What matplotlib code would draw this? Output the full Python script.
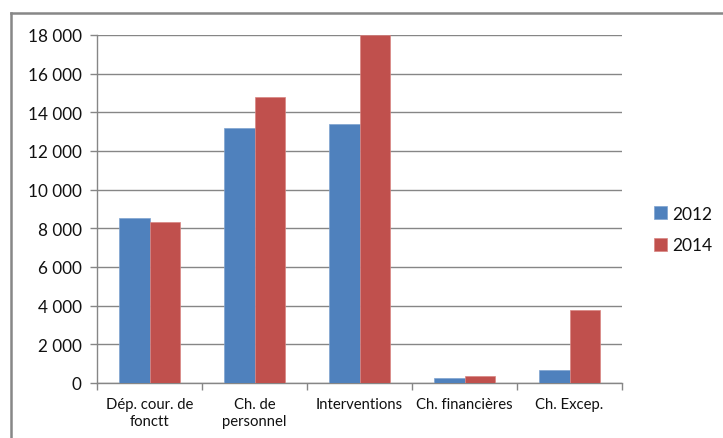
import matplotlib
matplotlib.use('Agg')
import matplotlib.pyplot as plt
from matplotlib.lines import Line2D
from matplotlib.ticker import FuncFormatter, FixedLocator
import numpy as np

categories = ["Dép. cour. de\nfonctt", "Ch. de\npersonnel", "Interventions",
              "Ch. financières", "Ch. Excep."]
years = ["2012", "2014"]
values_2012 = [8550, 13200, 13400, 260, 660]
values_2014 = [8330, 14800, 18000, 360, 3800]
y_ticks = list(range(0, 18001, 2000))

blue = '#4F81BD'
red = '#C0504D'
grey = '#868686'

plt.rcParams['font.family'] = ['Lato', 'DejaVu Sans']

W, H = 723, 439
fig = plt.figure(figsize=(W / 100, H / 100), dpi=100)

def px(x0, y0, x1, y1):
    return [x0 / W, 1 - y1 / H, (x1 - x0) / W, (y1 - y0) / H]

ax = fig.add_axes(px(97, 36, 622, 384))

x = np.arange(len(categories))
bw = 0.286
b1 = ax.bar(x - bw / 2, values_2012, bw, color=blue, edgecolor='#7fa3cf',
            linewidth=0.5, label=years[0], zorder=3)
b2 = ax.bar(x + bw / 2, values_2014, bw, color=red, edgecolor='#d98582',
            linewidth=0.5, label=years[1], zorder=3)

ax.set_xlim(-0.5, len(categories) - 0.5)
ax.set_ylim(0, 18000)
ax.set_yticks(y_ticks)
ax.yaxis.set_major_formatter(FuncFormatter(lambda v, p: '{:,}'.format(int(v)).replace(',', ' ')))
ax.yaxis.grid(True, color=grey, linewidth=1, zorder=0)
ax.set_axisbelow(True)

ax.set_xticks(x)
ax.set_xticklabels(categories, fontsize=10.7, color='#111111', linespacing=1.25)
ax.xaxis.set_minor_locator(FixedLocator(np.arange(-0.5, len(categories), 1.0)))
ax.tick_params(axis='x', which='major', length=0, pad=10)
ax.tick_params(axis='x', which='minor', length=5, color=grey, width=1)
ax.tick_params(axis='y', length=5, color=grey, width=1, labelsize=12.3,
               labelcolor='#111111', pad=6)

for side in ('top', 'right'):
    ax.spines[side].set_visible(False)
for side in ('left', 'bottom'):
    ax.spines[side].set_color(grey)
    ax.spines[side].set_linewidth(1)

leg = fig.legend(handles=[b1, b2], labels=years, loc='upper left',
                 bbox_to_anchor=(645 / W, 1 - 198 / H), frameon=False,
                 fontsize=12.5, handlelength=0.75, handleheight=0.75,
                 handletextpad=0.3, labelspacing=0.9, borderpad=0)
for t in leg.get_texts():
    t.set_color('#111111')

# outer chart frame (left and top edges)
fig.add_artist(Line2D([11 / W, 11 / W], [0, 1 - 14 / H], color='#878787',
                      linewidth=1.8, transform=fig.transFigure))
fig.add_artist(Line2D([11 / W, 1], [1 - 14 / H, 1 - 14 / H], color='#878787',
                      linewidth=1.8, transform=fig.transFigure))

fig.savefig('out.png', dpi=100, facecolor='white')
